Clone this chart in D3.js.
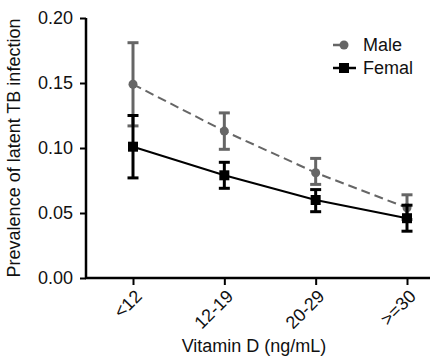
<!DOCTYPE html>
<html>
<head>
<meta charset="utf-8">
<script src="https://cdn.jsdelivr.net/npm/d3@7"></script>
<style>
  body { margin: 0; background: #fff; }
  text { font-family: "Liberation Sans", Arial, sans-serif; fill: #111; }
</style>
</head>
<body>
<svg id="chart" width="431" height="359"></svg>
<script>
const categories = ["<12", "12-19", "20-29", ">=30"];
const maleValues = [0.149, 0.113, 0.081, 0.054];
const maleLow = [0.117, 0.099, 0.072, 0.045];
const maleHigh = [0.181, 0.127, 0.092, 0.064];
const femaleValues = [0.101, 0.079, 0.060, 0.046];
const femaleLow = [0.077, 0.069, 0.051, 0.036];
const femaleHigh = [0.125, 0.089, 0.068, 0.056];
const yTicks = [0, 0.05, 0.10, 0.15, 0.20];

const svg = d3.select("#chart");

const x = d3.scalePoint()
    .domain(categories)
    .range([133, 407]);

const y = d3.scaleLinear()
    .domain([0, 0.20])
    .range([278, 18]);

const grey = "#666";

// axes
const yAxis = svg.append("g")
    .attr("transform", "translate(86,0)")
    .call(d3.axisLeft(y).tickValues(yTicks).tickFormat(d3.format(".2f")).tickSize(6).tickPadding(7));
yAxis.select(".domain").attr("stroke-width", 2.5).attr("d", "M0," + (y(0) + 1) + "V" + y(0.2));
yAxis.selectAll(".tick line").attr("stroke-width", 2);
yAxis.selectAll(".tick text").style("font-size", "18px").attr("fill", "#111");

const xAxis = svg.append("g")
    .attr("transform", "translate(0,278)")
    .call(d3.axisBottom(x).tickSize(7).tickPadding(4));
xAxis.select(".domain").attr("stroke-width", 2.5).attr("d", "M85,0H430");
xAxis.selectAll(".tick line").attr("stroke-width", 2);
xAxis.selectAll(".tick text")
    .style("font-size", "18px")
    .attr("fill", "#111")
    .attr("text-anchor", "end")
    .attr("x", 0).attr("y", 0)
    .attr("dy", "0.35em")
    .attr("transform", "translate(5,15) rotate(-45)");

svg.append("text")
    .attr("x", 254).attr("y", 352)
    .attr("text-anchor", "middle")
    .style("font-size", "18px")
    .text("Vitamin D (ng/mL)");

svg.append("text")
    .attr("transform", "translate(20,148) rotate(-90)")
    .attr("text-anchor", "middle")
    .style("font-size", "18px")
    .text("Prevalence of latent TB infection");

function drawSeries(vals, lo, hi, color, dashed, marker) {
    const g = svg.append("g");
    g.append("path")
        .datum(vals)
        .attr("fill", "none")
        .attr("stroke", color)
        .attr("stroke-width", 2)
        .attr("stroke-dasharray", dashed ? "9,5" : null)
        .attr("d", d3.line().x((d, i) => x(categories[i])).y(d => y(d)));
    categories.forEach((c, i) => {
        const cx = x(c);
        g.append("line").attr("x1", cx).attr("x2", cx).attr("y1", y(lo[i])).attr("y2", y(hi[i]))
            .attr("stroke", color).attr("stroke-width", 3);
        [lo[i], hi[i]].forEach(v => {
            g.append("line").attr("x1", cx - 5.5).attr("x2", cx + 5.5).attr("y1", y(v)).attr("y2", y(v))
                .attr("stroke", color).attr("stroke-width", 3);
        });
        if (marker === "circle") {
            g.append("circle").attr("cx", cx).attr("cy", y(vals[i])).attr("r", 4.5).attr("fill", color);
        } else {
            g.append("rect").attr("x", cx - 5).attr("y", y(vals[i]) - 5).attr("width", 10).attr("height", 10).attr("fill", color);
        }
    });
}

drawSeries(maleValues, maleLow, maleHigh, grey, true, "circle");
drawSeries(femaleValues, femaleLow, femaleHigh, "#000", false, "square");

// legend
const legend = svg.append("g");
const legendItems = [
    { label: "Male", color: grey, marker: "circle", dashed: true },
    { label: "Femal", color: "#000", marker: "square", dashed: false }
];
legendItems.forEach((d, i) => {
    const ly = 45 + i * 23;
    legend.append("line").attr("x1", 333).attr("x2", 356).attr("y1", ly).attr("y2", ly)
        .attr("stroke", d.color).attr("stroke-width", 2.5)
        .attr("stroke-dasharray", d.dashed ? "9,3,2,20" : null);
    if (d.marker === "circle") {
        legend.append("circle").attr("cx", 344).attr("cy", ly).attr("r", 4.5).attr("fill", d.color);
    } else {
        legend.append("rect").attr("x", 339).attr("y", ly - 5).attr("width", 10).attr("height", 10).attr("fill", d.color);
    }
    legend.append("text").attr("x", 363).attr("y", ly).attr("dy", "0.35em")
        .style("font-size", "18px").text(d.label);
});
</script>
</body>
</html>
